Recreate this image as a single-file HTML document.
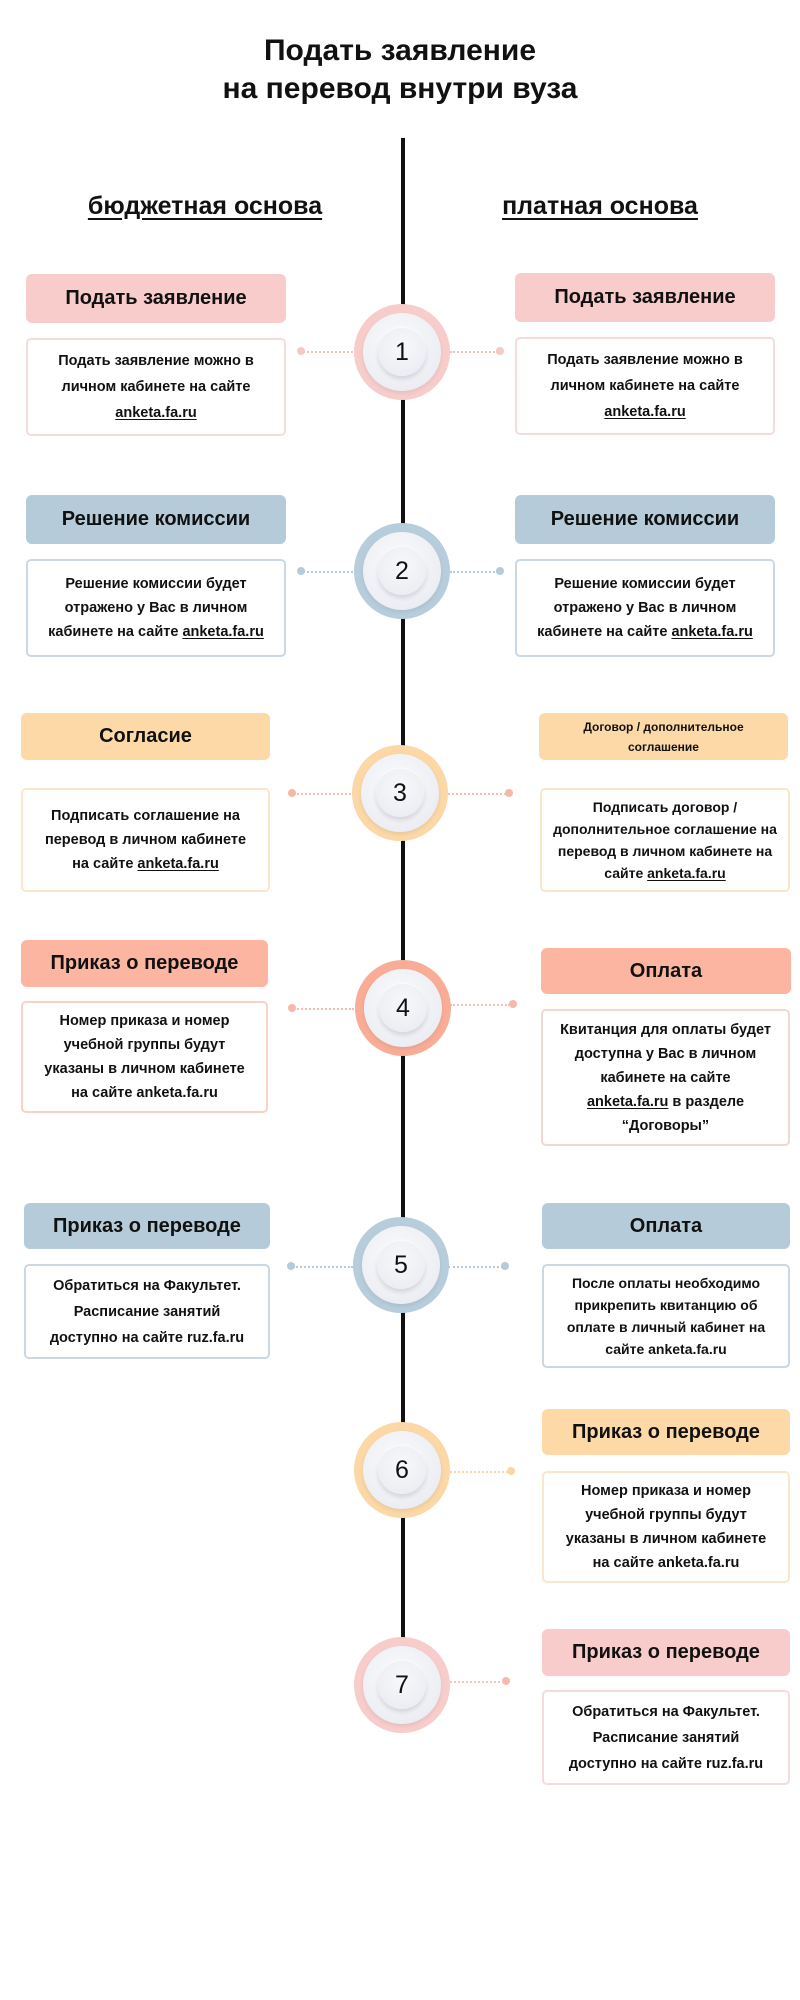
<!DOCTYPE html>
<html><head><meta charset="utf-8"><style>
*{margin:0;padding:0;box-sizing:border-box}
body{width:800px;height:2000px;background:#fff;position:relative;overflow:hidden;font-family:"Liberation Sans","DejaVu Sans",sans-serif;color:#111}
.a{position:absolute}
.t{position:absolute;display:flex;align-items:center;justify-content:center;text-align:center;border-radius:6px;font-weight:bold;font-size:20px}
.b{position:absolute;display:flex;align-items:center;justify-content:center;text-align:center;border-radius:5px;background:#fff;font-weight:bold;font-size:14.5px;line-height:24px;padding:0 4px;white-space:nowrap}
.b>div{width:100%}
u{text-decoration:underline;text-underline-offset:2px}
.c{position:absolute;width:96px;height:96px;border-radius:50%}
.c .w{position:absolute;left:9px;top:9px;width:78px;height:78px;border-radius:50%;background:radial-gradient(circle at 45% 40%,#fbfbfd 0%,#eceef3 70%,#e2e5ec 100%);box-shadow:0 2px 4px rgba(0,0,0,.08)}
.c .n{position:absolute;left:24px;top:24px;width:48px;height:48px;border-radius:50%;background:radial-gradient(circle at 50% 40%,#f7f8fa,#e8eaf0);box-shadow:0 3px 5px rgba(0,0,0,.12),0 -1px 2px rgba(255,255,255,.9);display:flex;align-items:center;justify-content:center;font-size:25px;color:#111}
.d{position:absolute;height:0;border-top:2px dotted}
.p{position:absolute;width:8px;height:8px;border-radius:50%}
</style></head><body>
<div class="a" style="left:0;width:800px;top:32px;text-align:center;font-weight:bold;font-size:30px;line-height:38px">Подать заявление<br>на перевод внутри вуза</div>
<div class="a" style="left:401px;top:138px;width:4px;height:1500px;background:#111"></div>
<div class="a" style="left:66px;top:192px;width:278px;text-align:center;font-weight:bold;font-size:25px;text-decoration:underline;text-underline-offset:4px">бюджетная основа</div>
<div class="a" style="left:481px;top:192px;width:238px;text-align:center;font-weight:bold;font-size:25px;text-decoration:underline;text-underline-offset:4px">платная основа</div>

<!-- 1 -->
<div class="t" style="left:26px;top:274px;width:260px;height:49px;background:#f9cccc">Подать заявление</div>
<div class="b" style="left:26px;top:338px;width:260px;height:98px;border:2px solid #f5dcdc;line-height:26px"><div>Подать заявление можно в<br>личном кабинете на сайте<br><u>anketa.fa.ru</u></div></div>
<div class="t" style="left:515px;top:273px;width:260px;height:49px;background:#f9cccc">Подать заявление</div>
<div class="b" style="left:515px;top:337px;width:260px;height:98px;border:2px solid #f5dcdc;line-height:26px"><div>Подать заявление можно в<br>личном кабинете на сайте<br><u>anketa.fa.ru</u></div></div>
<div class="p" style="left:297px;top:347px;background:#f5c9c7"></div><div class="d" style="left:303px;top:351px;width:54px;border-color:#f3c3c1"></div>
<div class="p" style="left:496px;top:347px;background:#f5c9c7"></div><div class="d" style="left:450px;top:351px;width:48px;border-color:#f3c3c1"></div>
<div class="c" style="left:354px;top:304px;background:#f7cdcc"><div class="w"></div><div class="n">1</div></div>

<!-- 2 -->
<div class="t" style="left:26px;top:495px;width:260px;height:49px;background:#b6cbd9">Решение комиссии</div>
<div class="b" style="left:26px;top:559px;width:260px;height:98px;border:2px solid #c9d8e2"><div>Решение комиссии будет<br>отражено у Вас в личном<br>кабинете на сайте <u>anketa.fa.ru</u></div></div>
<div class="t" style="left:515px;top:495px;width:260px;height:49px;background:#b6cbd9">Решение комиссии</div>
<div class="b" style="left:515px;top:559px;width:260px;height:98px;border:2px solid #c9d8e2"><div>Решение комиссии будет<br>отражено у Вас в личном<br>кабинете на сайте <u>anketa.fa.ru</u></div></div>
<div class="p" style="left:297px;top:567px;background:#b6cbd9"></div><div class="d" style="left:303px;top:571px;width:54px;border-color:#b6cbd9"></div>
<div class="p" style="left:496px;top:567px;background:#b6cbd9"></div><div class="d" style="left:450px;top:571px;width:48px;border-color:#b6cbd9"></div>
<div class="c" style="left:354px;top:523px;background:#b8cddc"><div class="w"></div><div class="n">2</div></div>

<!-- 3 -->
<div class="t" style="left:21px;top:713px;width:249px;height:47px;background:#fdd9a8">Согласие</div>
<div class="b" style="left:21px;top:788px;width:249px;height:104px;border:2px solid #fbe6c9"><div>Подписать соглашение на<br>перевод в личном кабинете<br>на сайте <u>anketa.fa.ru</u></div></div>
<div class="t" style="left:539px;top:713px;width:249px;height:47px;background:#fdd9a8;font-size:12px;line-height:20px">Договор / дополнительное<br>соглашение</div>
<div class="b" style="left:540px;top:788px;width:250px;height:104px;border:2px solid #fbe6c9;font-size:14px;line-height:22px"><div>Подписать договор /<br>дополнительное соглашение на<br>перевод в личном кабинете на<br>сайте <u>anketa.fa.ru</u></div></div>
<div class="p" style="left:288px;top:789px;background:#f6b8a8"></div><div class="d" style="left:294px;top:793px;width:60px;border-color:#f5c0b2"></div>
<div class="p" style="left:505px;top:789px;background:#f6b8a8"></div><div class="d" style="left:448px;top:793px;width:58px;border-color:#f5c0b2"></div>
<div class="c" style="left:352px;top:745px;background:#fbd8a6"><div class="w"></div><div class="n">3</div></div>

<!-- 4 -->
<div class="t" style="left:21px;top:940px;width:247px;height:47px;background:#fbb5a0">Приказ о переводе</div>
<div class="b" style="left:21px;top:1001px;width:247px;height:112px;border:2px solid #f8d2c6"><div>Номер приказа и номер<br>учебной группы будут<br>указаны в личном кабинете<br>на сайте anketa.fa.ru</div></div>
<div class="t" style="left:541px;top:948px;width:250px;height:46px;background:#fbb5a0">Оплата</div>
<div class="b" style="left:541px;top:1009px;width:249px;height:137px;border:2px solid #f0d8d2"><div>Квитанция для оплаты будет<br>доступна у Вас в личном<br>кабинете на сайте<br><u>anketa.fa.ru</u> в разделе<br>“Договоры”</div></div>
<div class="p" style="left:288px;top:1004px;background:#f6b8a8"></div><div class="d" style="left:294px;top:1008px;width:60px;border-color:#f5c0b2"></div>
<div class="p" style="left:509px;top:1000px;background:#f6b8a8"></div><div class="d" style="left:450px;top:1004px;width:60px;border-color:#f5c0b2"></div>
<div class="c" style="left:355px;top:960px;background:#f9ad96"><div class="w"></div><div class="n">4</div></div>

<!-- 5 -->
<div class="t" style="left:24px;top:1203px;width:246px;height:46px;background:#b6cbd9">Приказ о переводе</div>
<div class="b" style="left:24px;top:1264px;width:246px;height:95px;border:2px solid #c9d8e2;line-height:26px"><div>Обратиться на Факультет.<br>Расписание занятий<br>доступно на сайте ruz.fa.ru</div></div>
<div class="t" style="left:542px;top:1203px;width:248px;height:46px;background:#b6cbd9">Оплата</div>
<div class="b" style="left:542px;top:1264px;width:248px;height:104px;border:2px solid #c9d8e2;font-size:14px;line-height:22px"><div>После оплаты необходимо<br>прикрепить квитанцию об<br>оплате в личный кабинет на<br>сайте anketa.fa.ru</div></div>
<div class="p" style="left:287px;top:1262px;background:#b6cbd9"></div><div class="d" style="left:293px;top:1266px;width:60px;border-color:#b6cbd9"></div>
<div class="p" style="left:501px;top:1262px;background:#b6cbd9"></div><div class="d" style="left:448px;top:1266px;width:55px;border-color:#b6cbd9"></div>
<div class="c" style="left:353px;top:1217px;background:#b8cddc"><div class="w"></div><div class="n">5</div></div>

<!-- 6 -->
<div class="t" style="left:542px;top:1409px;width:248px;height:46px;background:#fdd9a8">Приказ о переводе</div>
<div class="b" style="left:542px;top:1471px;width:248px;height:112px;border:2px solid #fbe6c9"><div>Номер приказа и номер<br>учебной группы будут<br>указаны в личном кабинете<br>на сайте anketa.fa.ru</div></div>
<div class="p" style="left:507px;top:1467px;background:#fbd6a2"></div><div class="d" style="left:450px;top:1471px;width:58px;border-color:#fbd6a2"></div>
<div class="c" style="left:354px;top:1422px;background:#fbd8a6"><div class="w"></div><div class="n">6</div></div>

<!-- 7 -->
<div class="t" style="left:542px;top:1629px;width:248px;height:47px;background:#f9cccc">Приказ о переводе</div>
<div class="b" style="left:542px;top:1690px;width:248px;height:95px;border:2px solid #f5dcdc;line-height:26px"><div>Обратиться на Факультет.<br>Расписание занятий<br>доступно на сайте ruz.fa.ru</div></div>
<div class="p" style="left:502px;top:1677px;background:#f5b9ae"></div><div class="d" style="left:450px;top:1681px;width:54px;border-color:#f3c3c1"></div>
<div class="c" style="left:354px;top:1637px;background:#f7cdcc"><div class="w"></div><div class="n">7</div></div>
</body></html>
